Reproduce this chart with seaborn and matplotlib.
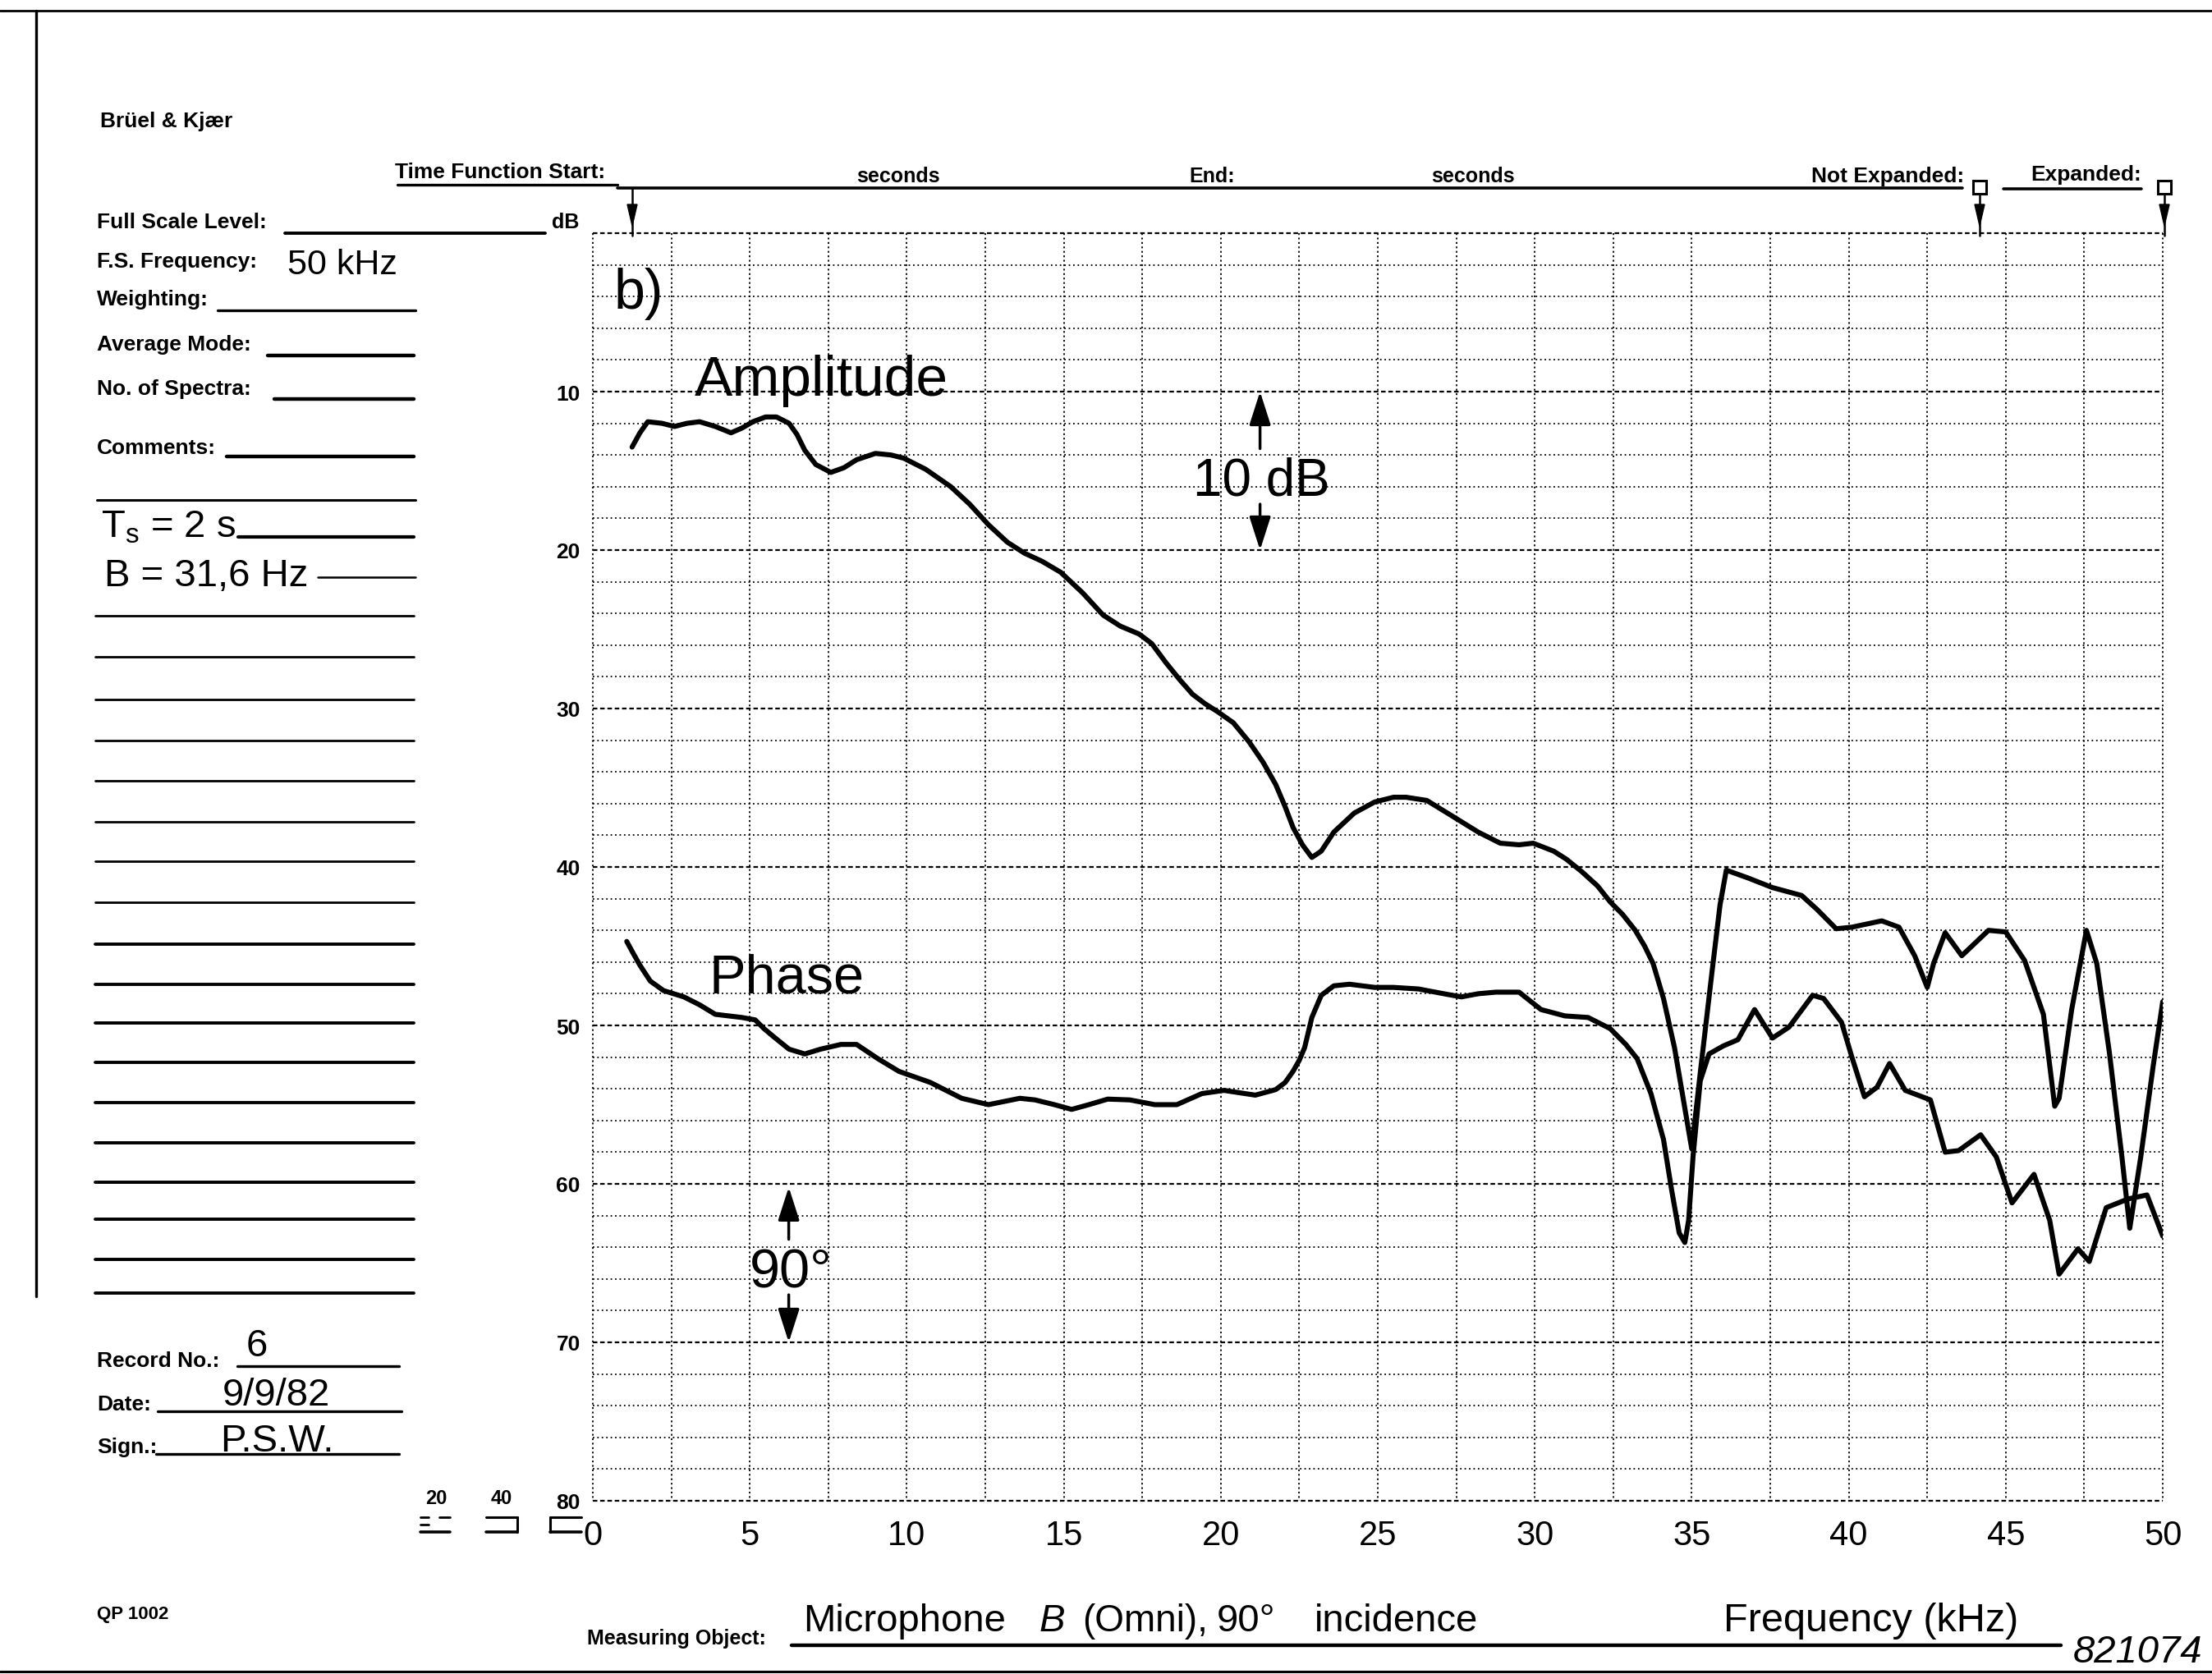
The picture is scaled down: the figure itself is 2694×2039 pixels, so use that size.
import matplotlib
matplotlib.use("Agg")
import matplotlib.pyplot as plt
from matplotlib.lines import Line2D
from matplotlib.patches import Rectangle, Polygon
import numpy as np
import pandas as pd
import seaborn as sns

# values (kHz, dB below full scale)
amp_khz = [1.25, 1.5, 1.75, 2.2, 2.6, 3.0, 3.4, 3.9, 4.4, 4.75, 5.1, 5.5, 5.85, 6.25,
           6.5, 6.75, 7.1, 7.58, 8.0, 8.4, 9.0, 9.5, 9.9, 10.6, 11.4, 12.0, 12.6, 13.2,
           13.75, 14.3, 14.9, 15.6, 16.25, 16.8, 17.4, 17.8, 18.25, 18.7, 19.1, 19.5,
           19.9, 20.4, 20.9, 21.35, 21.75, 22.05, 22.3, 22.6, 22.9, 23.2, 23.6, 24.25,
           24.9, 25.5, 25.9, 26.56, 27.3, 28.2, 28.9, 29.5, 29.95, 30.6, 31.0, 31.5,
           32.0, 32.4, 32.8, 33.2, 33.5, 33.77, 34.1, 34.45, 34.7, 35.0, 35.27, 35.64,
           35.9, 36.1, 36.8, 37.57, 38.5, 39.0, 39.6, 40.1, 41.05, 41.6, 42.1, 42.5,
           42.7, 43.07, 43.6, 44.45, 45.0, 45.6, 46.2, 46.56, 46.7, 47.1, 47.57, 47.9,
           48.3, 48.7, 48.95, 49.3, 49.7, 50.0]
amp_db = [13.5, 12.6, 11.9, 12.0, 12.2, 12.0, 11.9, 12.2, 12.6, 12.3, 11.9, 11.6, 11.6, 12.0,
          12.7, 13.7, 14.6, 15.1, 14.8, 14.3, 13.9, 14.0, 14.2, 14.9, 16.0, 17.1, 18.4, 19.5,
          20.2, 20.7, 21.4, 22.7, 24.1, 24.8, 25.3, 25.9, 27.1, 28.2, 29.1, 29.7,
          30.2, 30.9, 32.1, 33.4, 34.8, 36.2, 37.5, 38.6, 39.4, 39.0, 37.8, 36.6,
          35.9, 35.6, 35.6, 35.8, 36.7, 37.8, 38.5, 38.6, 38.5, 39.0, 39.5, 40.3,
          41.2, 42.2, 43.0, 44.0, 45.0, 46.1, 48.3, 51.4, 54.3, 57.8, 53.0, 46.7,
          42.4, 40.2, 40.7, 41.3, 41.8, 42.7, 43.9, 43.8, 43.4, 43.8, 45.6, 47.6,
          46.1, 44.15, 45.6, 44.0, 44.1, 45.9, 49.3, 55.1, 54.6, 49.0, 44.0, 46.1,
          51.7, 58.3, 62.8, 58.3, 52.5, 48.5]

phase_khz = [1.08, 1.3, 1.5, 1.83, 2.25, 2.9, 3.4, 3.9, 4.75, 5.17, 5.45, 5.75, 6.25, 6.75,
             7.25, 7.9, 8.4, 9.08, 9.75, 10.75, 11.75, 12.6, 13.6, 14.08, 14.7, 15.25,
             15.8, 16.4, 17.1, 17.9, 18.6, 19.4, 20.1, 21.1, 21.75, 22.05, 22.3, 22.5,
             22.67, 22.9, 23.2, 23.6, 24.1, 24.9, 25.5, 26.3, 27.1, 27.66, 28.2, 28.76,
             29.5, 30.2, 30.96, 31.7, 32.4, 32.9, 33.26, 33.7, 34.1, 34.36, 34.6, 34.78,
             34.9, 35.04, 35.27, 35.55, 36.0, 36.47, 37.0, 37.57, 38.1, 38.85, 39.2,
             39.77, 40.1, 40.5, 40.9, 41.3, 41.8, 42.6, 43.07, 43.5, 44.2, 44.7, 45.2,
             45.9, 46.4, 46.7, 47.3, 47.66, 48.2, 48.9, 49.5, 50.0]
phase_db = [44.7, 45.5, 46.2, 47.2, 47.8, 48.2, 48.7, 49.3, 49.5, 49.65, 50.2, 50.7, 51.5, 51.8,
            51.5, 51.2, 51.2, 52.1, 52.9, 53.6, 54.6, 55.0, 54.6, 54.7, 55.0, 55.3,
            55.0, 54.65, 54.7, 55.0, 55.0, 54.3, 54.1, 54.4, 54.05, 53.6, 52.9, 52.2,
            51.4, 49.5, 48.1, 47.5, 47.4, 47.6, 47.6, 47.7, 48.0, 48.2, 48.0, 47.9,
            47.9, 49.0, 49.4, 49.5, 50.2, 51.2, 52.1, 54.3, 57.2, 60.4, 63.1, 63.7,
            62.3, 58.3, 53.5, 51.8, 51.3, 50.9, 49.0, 50.8, 50.1, 48.1, 48.3,
            49.8, 52.0, 54.5, 53.9, 52.4, 54.1, 54.7, 58.0, 57.9, 56.9, 58.3, 61.2,
            59.4, 62.3, 65.7, 64.1, 64.9, 61.5, 60.95, 60.7, 63.3]

freq_ticks = [0, 5, 10, 15, 20, 25, 30, 35, 40, 45, 50]
level_ticks = [10, 20, 30, 40, 50, 60, 70, 80]

# size of the scanned sheet in pixels
W, H = 2694, 2040


def fx(px):
    return px / W


def fy(py):
    return 1 - py / H


sns.set_style("white")
plt.rcParams["font.family"] = ["Liberation Sans", "DejaVu Sans"]
plt.rcParams["mathtext.fontset"] = "custom"
plt.rcParams["mathtext.rm"] = "Liberation Sans"
plt.rcParams["text.color"] = "black"
plt.rcParams["xtick.color"] = "black"
plt.rcParams["ytick.color"] = "black"

fig = plt.figure(figsize=(W / 100, H / 100), dpi=100)
fig.patch.set_facecolor("white")
ax = fig.add_axes([fx(722), fy(1829), (2634 - 722) / W, (1829 - 285) / H])

# recorder paper grid
for lev in np.arange(0, 81, 2):
    heavy = lev % 10 == 0
    ax.hlines(lev, 0, 50, color="black", lw=1.6 if heavy else 1.3,
              linestyles=(0, (2.5, 1.5)) if heavy else (0, (1.0, 2.0)), clip_on=False, zorder=1)
for f in np.arange(0, 50.01, 2.5):
    ax.vlines(f, 0, 80, color="black", lw=1.3, linestyles=(0, (1.2, 1.8)), clip_on=False, zorder=1)

amp = pd.DataFrame({"kHz": amp_khz, "dB": amp_db})
phase = pd.DataFrame({"kHz": phase_khz, "dB": phase_db})
sns.lineplot(data=amp, x="kHz", y="dB", ax=ax, color="black", lw=4.4,
             estimator=None, sort=False, zorder=3)
sns.lineplot(data=phase, x="kHz", y="dB", ax=ax, color="black", lw=4.4,
             estimator=None, sort=False, zorder=3)
for ln in ax.lines:
    ln.set_solid_joinstyle("round")
    ln.set_solid_capstyle("round")

ax.set_xlim(0, 50)
ax.set_ylim(80, 0)
ax.set_xticks(freq_ticks)
ax.set_xticklabels([str(t) for t in freq_ticks], fontsize=30)
ax.set_yticks(level_ticks)
ax.set_yticklabels([str(t) for t in level_ticks], fontsize=19, fontweight="bold")
ax.tick_params(axis="both", length=0)
ax.tick_params(axis="x", pad=16)
ax.tick_params(axis="y", pad=11)
ax.set_xlabel("")
ax.set_ylabel("")
for sp in ax.spines.values():
    sp.set_visible(False)

# lettering on the chart
ax.text(0.67, 4.7, "b)", fontsize=49, va="baseline", ha="left", zorder=4)
ax.text(3.25, 10.2, "Amplitude", fontsize=50, va="baseline", ha="left", zorder=4)
ax.text(3.7, 47.9, "Phase", fontsize=48, va="baseline", ha="left", zorder=4)
ax.text(21.3, 16.5, "10 dB", fontsize=46, va="baseline", ha="center", zorder=4)
ax.text(6.3, 66.5, "90°", fontsize=48, va="baseline", ha="center", zorder=4)
head = "-|>,head_length=0.5,head_width=0.16"
for x0, y_tip, y_tail in [(21.25, 10, 13.6), (21.25, 20, 17.1), (6.24, 60.2, 63.5), (6.24, 70.0, 67.0)]:
    ax.annotate("", xy=(x0, y_tip), xytext=(x0, y_tail),
                arrowprops=dict(arrowstyle=head, color="black", lw=2.5, mutation_scale=50,
                                shrinkA=0, shrinkB=0), zorder=4)


# form frame
def fline(x0, y0, x1, y1, lw=2.4, **kw):
    fig.add_artist(Line2D([fx(x0), fx(x1)], [fy(y0), fy(y1)], color="black", lw=lw, **kw))


fline(0, 14, W, 14, lw=2.0)
fline(44, 14, 44, 1580, lw=2.4)
fline(0, 2037, W, 2037, lw=2.2)

lab = dict(fontsize=19, fontweight="bold", va="baseline", ha="left")
hand = dict(va="baseline", ha="left")

fig.text(fx(122), fy(155), "Brüel & Kjær", **lab)

fig.text(fx(118), fy(278), "Full Scale Level:", **lab)
fline(347, 285, 664, 285, lw=2.8)
fig.text(fx(672), fy(278), "dB", fontsize=18, fontweight="bold", va="baseline", ha="left")
fig.text(fx(118), fy(326), "F.S. Frequency:", **lab)
fig.text(fx(350), fy(334), "50 kHz", fontsize=31, **hand)
fig.text(fx(118), fy(372), "Weighting:", **lab)
fline(265, 379, 506, 379)
fig.text(fx(118), fy(427), "Average Mode:", **lab)
fline(326, 434, 504, 434, lw=3.2)
fig.text(fx(118), fy(481), "No. of Spectra:", **lab)
fline(334, 487, 504, 487, lw=3.2)
fig.text(fx(118), fy(553), "Comments:", **lab)
fline(276, 557, 504, 557, lw=3.2)
fline(118, 610, 506, 610, lw=2.2)
fig.text(fx(123), fy(655), r"T$_\mathregular{s}$ = 2 s", fontsize=34, **hand)
fline(290, 655, 504, 655, lw=3.0)
fig.text(fx(127), fy(714), "B = 31,6 Hz", fontsize=34, **hand)
fline(387, 704, 506, 704, lw=1.8)
for i, yy in enumerate([751, 801, 853, 903, 952, 1002, 1050, 1100, 1151, 1200,
                        1247, 1295, 1344, 1393, 1441, 1486, 1535, 1576]):
    fline(116, yy, 504, yy, lw=2.0 if i < 8 else 2.8)

fig.text(fx(118), fy(1665), "Record No.:", **lab)
fig.text(fx(300), fy(1652), "6", fontsize=34, **hand)
fline(289, 1665, 486, 1665, lw=2.4)
fig.text(fx(118), fy(1718), "Date:", **lab)
fig.text(fx(271), fy(1712), "9/9/82", fontsize=34, **hand)
fline(192, 1720, 489, 1720, lw=2.4)
fig.text(fx(118), fy(1770), "Sign.:", **lab)
fig.text(fx(268), fy(1768), "P.S.W.", fontsize=34, **hand)
fline(190, 1772, 486, 1772, lw=2.4)
fig.text(fx(118), fy(1972), "QP 1002", fontsize=16, fontweight="bold", va="baseline", ha="left")

# paper speed marks (the 80 is shared with the level scale)
for cx, txt in [(531, "20"), (611, "40")]:
    fig.text(fx(cx), fy(1832), txt, fontsize=17, fontweight="bold", va="baseline", ha="center")
fline(512, 1849, 522, 1849, lw=2.0)
fline(535, 1849, 548, 1849, lw=2.0)
fline(512, 1867, 548, 1867, lw=2.6)
fline(512, 1858, 522, 1858, lw=2.0)
for x0, x1, side in [(592, 630, 630), (670, 708, 670)]:
    fline(x0, 1849, x1, 1849, lw=2.2)
    fline(x0, 1867, x1, 1867, lw=2.6)
    fline(side, 1849, side, 1867, lw=2.2)

# header: time function
fig.text(fx(481), fy(217), "Time Function Start:", **lab)
fline(484, 226, 752, 226, lw=2.4)
fline(752, 230, 2390, 230, lw=2.6)
fline(2440, 231, 2608, 231, lw=2.6)
for cx, txt in [(1094, "seconds"), (1476, "End:"), (1794, "seconds")]:
    fig.text(fx(cx), fy(222), txt, fontsize=18, fontweight="bold", va="baseline", ha="center")
fig.text(fx(2392), fy(222), "Not Expanded:", fontsize=19, fontweight="bold", va="baseline", ha="right")
fig.text(fx(2608), fy(220), "Expanded:", fontsize=19, fontweight="bold", va="baseline", ha="right")
for ax_x, top in [(770, 230), (2411, 237), (2636, 237)]:
    fline(ax_x, top, ax_x, 288, lw=1.8)
    fig.add_artist(Polygon([(fx(ax_x - 6), fy(250)), (fx(ax_x + 6), fy(250)), (fx(ax_x), fy(276))],
                           closed=True, color="black", transform=fig.transFigure))
for ax_x in [2411, 2636]:
    fig.add_artist(Rectangle((fx(ax_x - 8), fy(237)), 16 / W, 16 / H, facecolor="white",
                             edgecolor="black", lw=2.2, transform=fig.transFigure))

# footer
fig.text(fx(715), fy(2003), "Measuring Object:", fontsize=18, fontweight="bold", va="baseline", ha="left")
fline(964, 2005, 2510, 2005, lw=3.2)
fig.text(fx(978), fy(1987), "Microphone", fontsize=34, **hand)
fig.text(fx(1266), fy(1987), "B", fontsize=34, style="italic", **hand)
fig.text(fx(1318), fy(1987), "(Omni),", fontsize=33, **hand)
fig.text(fx(1482), fy(1987), "90°", fontsize=34, **hand)
fig.text(fx(1601), fy(1987), "incidence", fontsize=34, **hand)
fig.text(fx(2099), fy(1987), "Frequency (kHz)", fontsize=35, **hand)
fig.text(fx(2525), fy(2025), "821074", fontsize=34, style="italic", **hand)

fig.savefig("out.png", dpi=100, facecolor="white")
